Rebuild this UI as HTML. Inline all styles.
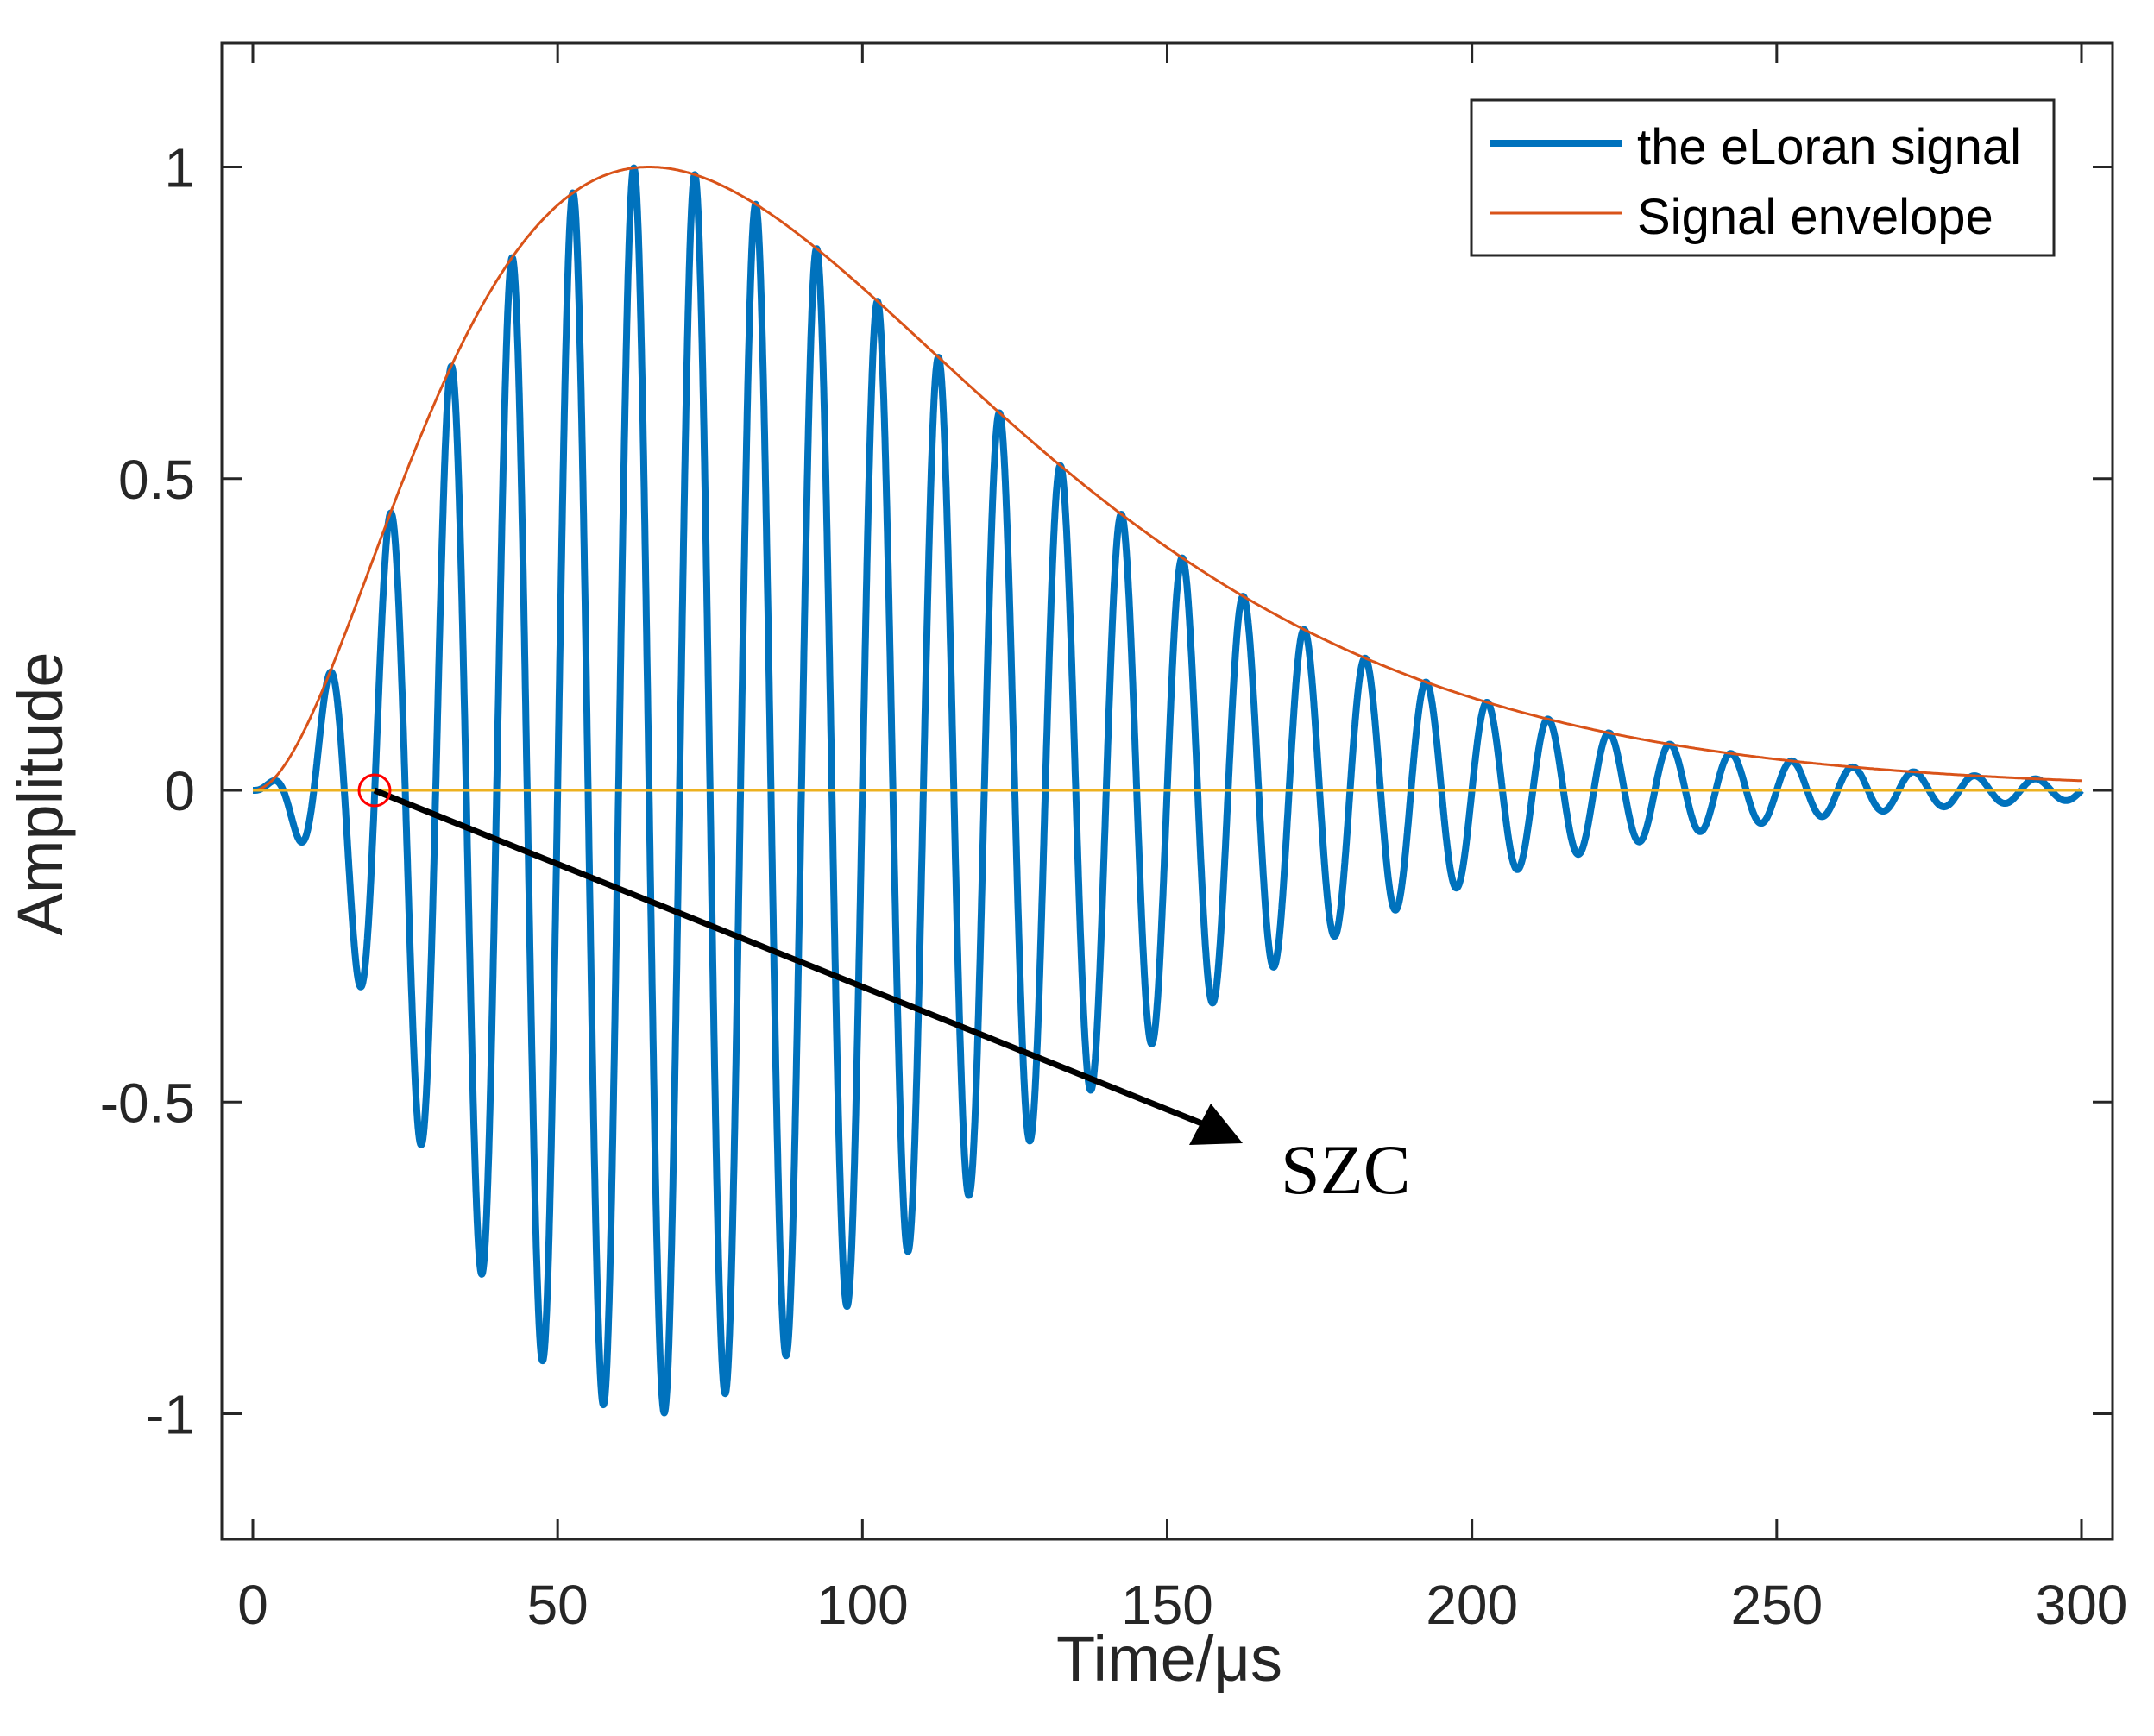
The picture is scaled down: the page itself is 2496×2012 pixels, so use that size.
<!DOCTYPE html>
<html><head><meta charset="utf-8"><style>
html,body{margin:0;padding:0;background:#fff;}
svg{display:block;}
text{font-family:"Liberation Sans",Arial,sans-serif;fill:#262626;}
</style></head><body>
<svg id="s" width="2496" height="2012" viewBox="0 0 2496 2012" xmlns="http://www.w3.org/2000/svg">
<rect width="2496" height="2012" fill="#fff"/>
<g id="plot"></g>
<rect x="257" y="50" width="2191" height="1734" fill="none" stroke="#262626" stroke-width="3"/>
<g id="ticks" stroke="#262626" stroke-width="3"></g>
<g id="labels" font-size="64"></g>
<text x="1355" y="1948" font-size="74" text-anchor="middle">Time/μs</text>
<text transform="translate(72,920) rotate(-90)" font-size="74" text-anchor="middle">Amplitude</text>
<text x="1484" y="1383" font-size="82" style="font-family:'Liberation Serif',serif;fill:#000">SZC</text>
<rect x="1705" y="116" width="675" height="180" fill="#fff" stroke="#262626" stroke-width="3"/>
<line x1="1726" y1="166" x2="1879" y2="166" stroke="#0072BD" stroke-width="8"/>
<line x1="1726" y1="247" x2="1879" y2="247" stroke="#D95319" stroke-width="3"/>
<text x="1897" y="190" font-size="58" style="fill:#000">the eLoran signal</text>
<text x="1897" y="271" font-size="58" style="fill:#000">Signal envelope</text>
</svg>
<script>
var X0=293,XS=(2412-293)/300,Y0=916,YS=722.5;
function px(t){return X0+t*XS;} function py(v){return Y0-v*YS;}
function env(t){var a=t/65;return a*a*Math.exp(2-2*a);}
var sig="",en="";
for(var i=0;i<=6000;i++){var t=i*0.05;var e=env(t);var s=e*Math.sin(2*Math.PI*(t-20)/10);
sig+=(i?"L":"M")+px(t).toFixed(1)+","+py(s).toFixed(1);
if(i%4==0)en+=(i?"L":"M")+px(t).toFixed(1)+","+py(e).toFixed(1);}
var ns="http://www.w3.org/2000/svg";
var g=document.getElementById("plot");
function el(n,a,p){var e=document.createElementNS(ns,n);for(var k in a)e.setAttribute(k,a[k]);(p||g).appendChild(e);return e;}
el("path",{d:sig,fill:"none",stroke:"#0072BD","stroke-width":8,"stroke-linejoin":"round"});
el("path",{d:en,fill:"none",stroke:"#D95319","stroke-width":3});
el("line",{x1:px(0),y1:Y0,x2:px(300),y2:Y0,stroke:"#EDB120","stroke-width":3});
el("line",{x1:434,y1:916,x2:1400,y2:1305,stroke:"#000","stroke-width":7});
el("polygon",{points:"1440,1325 1378,1327 1403,1279",fill:"#000"});
el("circle",{cx:434,cy:916,r:18,fill:"none",stroke:"#FF0000","stroke-width":3});
var tk=document.getElementById("ticks"),lb=document.getElementById("labels");
for(var v=0;v<=300;v+=50){var x=px(v);
el("line",{x1:x,y1:1784,x2:x,y2:1761},tk);el("line",{x1:x,y1:50,x2:x,y2:73},tk);
var t=el("text",{x:x,y:1882,"text-anchor":"middle"},lb);t.textContent=String(v);}
[-1,-0.5,0,0.5,1].forEach(function(v){var y=py(v);
el("line",{x1:257,y1:y,x2:280,y2:y},tk);el("line",{x1:2448,y1:y,x2:2425,y2:y},tk);
var t=el("text",{x:226,y:y+23,"text-anchor":"end"},lb);t.textContent=String(v);});
</script>
</body></html>
